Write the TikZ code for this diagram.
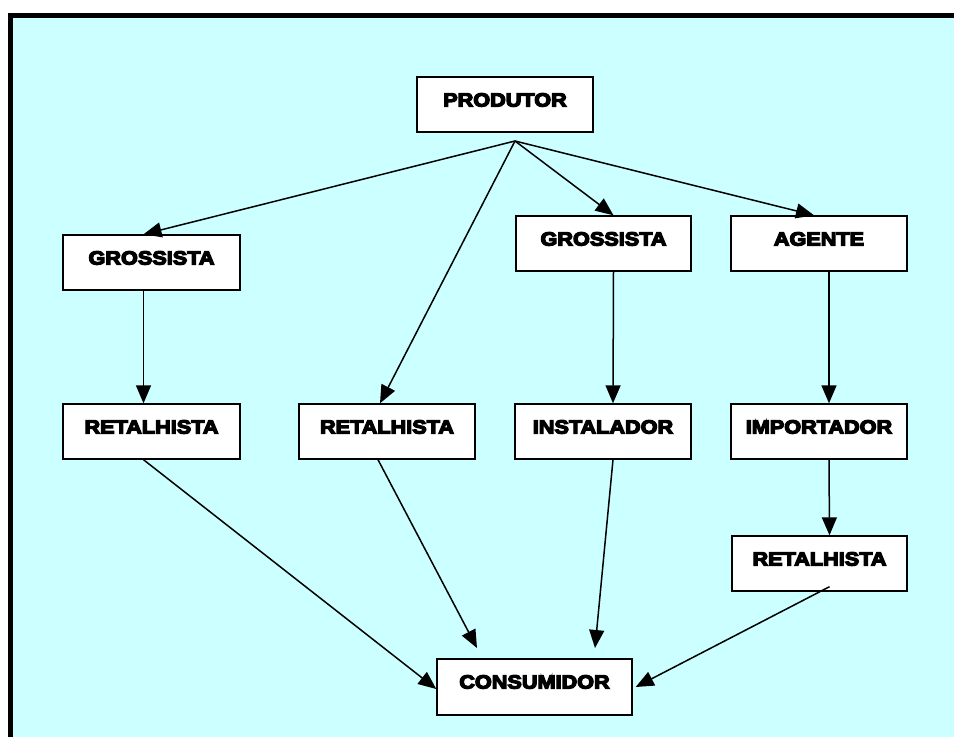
\documentclass[tikz,border=0pt]{standalone}
\usepackage{fontspec}
\newfontfamily\labelfont{Liberation Sans}[BoldFeatures={FakeStretch=1.14}]
\usetikzlibrary{arrows.meta}
\definecolor{panel}{HTML}{CCFFFF}
% heavy lettering: fill and stroke the glyph outlines
\newcommand{\heavytext}[1]{\special{pdf:literal direct 2 Tr 1.3 w}#1\special{pdf:literal direct 0 Tr}}
\tikzset{
  stage/.style={draw=black, fill=white, line width=1.4pt, inner sep=0pt,
    minimum width=176pt, text height=29.5pt, text depth=25.5pt,
    font=\labelfont\bfseries\fontsize{19}{21}\selectfont},
  flow/.style={line width=1.5pt, -{Triangle[length=18pt,width=15pt]}}
}
\begin{document}
\begin{tikzpicture}[x=1pt,y=-1pt]
  \useasboundingbox (0,0) rectangle (954,737);
  % frame and panel
  \fill[white] (0,0) rectangle (954,737);
  \fill[black] (8,13) rectangle (954,737);
  \fill[panel] (13,18) rectangle (954,737);

  % stages of the distribution chain
  \node[stage] (prod) at (505,104.5) {\heavytext{PRODUTOR}};
  \node[stage, minimum width=177pt] (g1) at (151.5,262.5) {\heavytext{GROSSISTA}};
  \node[stage, minimum width=175pt] (g2) at (603.5,243.5) {\heavytext{GROSSISTA}};
  \node[stage] (ag) at (819,243.5) {\heavytext{AGENTE}};
  \node[stage, minimum width=177pt] (r1) at (151.5,431.5) {\heavytext{RETALHISTA}};
  \node[stage] (r2) at (387,431.5) {\heavytext{RETALHISTA}};
  \node[stage] (inst) at (603,431.5) {\heavytext{INSTALADOR}};
  \node[stage] (imp) at (819,431.5) {\heavytext{IMPORTADOR}};
  \node[stage, minimum width=175pt] (r3) at (819.5,563.5) {\heavytext{RETALHISTA}};
  \node[stage, minimum width=195pt, text depth=26.5pt] (cons) at (534.5,687) {\heavytext{CONSUMIDOR}};

  % branching point below the producer and free arrow ends
  \coordinate (fork) at (515,141);
  \coordinate (endr2) at (477,648);
  \coordinate (endinst) at (595,648);

  % connectors
  \draw[flow] (fork) -- ([xshift=-8pt]g1.north);
  \draw[flow] (fork) -- ([xshift=-7pt]r2.north);
  \draw[flow] (fork) -- ([xshift=10pt]g2.north);
  \draw[flow] (fork) -- ([xshift=-5pt]ag.north);
  \draw[flow] ([xshift=-8pt]g1.south) -- ([xshift=-8pt]r1.north);
  \draw[flow] ([xshift=10pt]g2.south) -- ([xshift=10pt]inst.north);
  \draw[flow] ([xshift=10pt]ag.south) -- ([xshift=10pt]imp.north);
  \draw[flow] ([xshift=10pt]imp.south) -- ([xshift=10pt]r3.north);
  \draw[flow] ([xshift=-8pt]r1.south) -- ([yshift=-2pt]cons.west);
  \draw[flow] ([xshift=-9pt]r2.south) -- (endr2);
  \draw[flow] ([xshift=10pt]inst.south) -- (endinst);
  \draw[flow] ([xshift=10pt,yshift=5pt]r3.south) -- ([xshift=3pt]cons.east);
\end{tikzpicture}
\end{document}
